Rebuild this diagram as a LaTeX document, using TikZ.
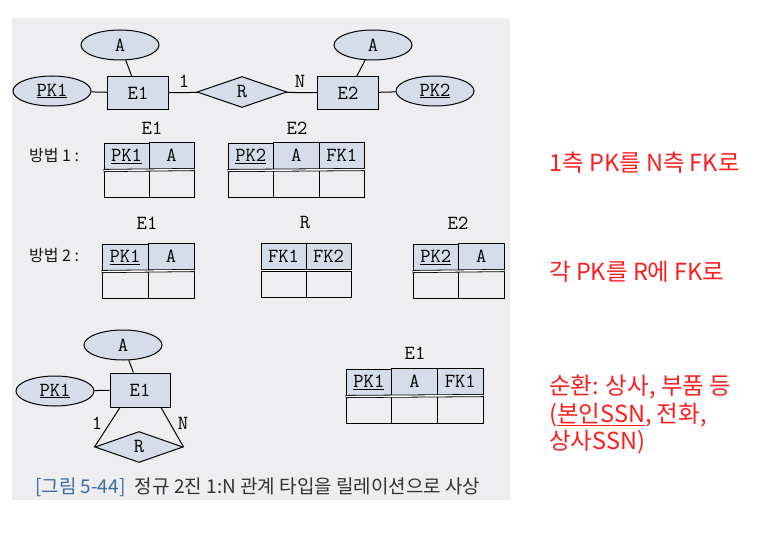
\documentclass[tikz,border=0pt]{standalone}
\usepackage{fontspec}
\usepackage{tikz}
\usetikzlibrary{shapes, arrows, calc, positioning, matrix}
\newfontfamily\kor{Noto Sans CJK KR}
\definecolor{panel}{RGB}{238,238,241}
\definecolor{shade}{RGB}{213,220,234}
\definecolor{capblue}{RGB}{58,108,165}
\definecolor{notered}{RGB}{250,30,30}

\begin{document}
\begin{tikzpicture}[>=stealth, x=1pt, y=-1pt]
    \tikzstyle{ent} = [draw, line width=1pt, fill=shade, minimum width=61pt,
	minimum height=32pt, inner sep=0pt, font=\ttfamily\fontsize{20}{20}\selectfont]
    \tikzstyle{attr} = [draw, line width=1pt, fill=shade, ellipse, minimum width=78pt,
	minimum height=30pt, inner sep=0pt, font=\ttfamily\fontsize{20}{20}\selectfont]
    \tikzstyle{rel} = [draw, line width=1pt, fill=shade, diamond, aspect=3,
	minimum width=90pt, minimum height=31pt, inner sep=0pt, font=\ttfamily\fontsize{20}{20}\selectfont]
    \tikzstyle{lbl} = [inner sep=0pt, font=\ttfamily\fontsize{20}{20}\selectfont]
    \tikzstyle{tbl} = [matrix of nodes, nodes in empty cells, anchor=north west,
	line width=1pt, column sep=-\pgflinewidth, row sep=-\pgflinewidth, inner sep=0pt,
	nodes={draw, line width=1pt, minimum height=27pt, inner sep=0pt,
	font=\ttfamily\fontsize{20}{20}\selectfont},
	row 1/.style={nodes={fill=shade}}]
    \tikzstyle{hline} = [double, double distance=1.4pt, line width=0.8pt]
    \tikzstyle{method} = [inner sep=0pt, text=black!90, font=\kor\fontsize{16}{16}\selectfont]
    \tikzstyle{note} = [inner sep=0pt, anchor=west, text=notered,
	font=\kor\fontsize{23.5}{28}\selectfont]

	\useasboundingbox (0,0) rectangle (759,532);
	\fill[panel] (12,18) rectangle (510,500);

	% E-R diagram
	\begin{scope}
		\path[-, line width=1pt]
			node[ent] (E1) at (138,93) {E1}
			node[attr] (A1) at (120,45) {A}
			node[attr] (PK1) at (52,91) {\underline{PK1}}
			node[rel] (R) at (242,92) {R}
			node[ent] (E2) at (348,93) {E2}
			node[attr] (A2) at (373,45) {A}
			node[attr] (PK2) at (435,91) {\underline{PK2}}
			node[lbl] (one) at (184,81) {1}
			node[lbl] (many) at (300,81) {N}

			(A1) edge (E1)
			(PK1) edge (E1)
			(E1) edge (R)
			(R) edge (E2)
			(A2) edge (E2)
			(E2) edge (PK2)
		;
	\end{scope}

	% method 1
	\node[method] (way1) at (54,155) {방법 1 :};
	\node[lbl] (t1E1) at (152,128) {E1};
	\matrix (m1E1) [tbl, nodes={minimum width=45pt}] at (103,141) {
		\underline{PK1} & A \\
		& \\
	};
	\node[lbl] (t1E2) at (297,128) {E2};
	\matrix (m1E2) [tbl, nodes={minimum width=45.5pt}] at (227,141) {
		\underline{PK2} & A & FK1 \\
		& & \\
	};
	\draw[hline] (m1E1-1-1.south west) -- (m1E1-1-2.south east);
	\draw[hline] (m1E2-1-1.south west) -- (m1E2-1-3.south east);

	% method 2
	\node[method] (way2) at (54,255) {방법 2 :};
	\node[lbl] (t2E1) at (147,223) {E1};
	\matrix (m2E1) [tbl, nodes={minimum width=46pt}] at (101,242) {
		\underline{PK1} & A \\
		& \\
	};
	\node[lbl] (t2R) at (305,223) {R};
	\matrix (m2R) [tbl, nodes={minimum width=45pt}] at (260,242) {
		FK1 & FK2 \\
		& \\
	};
	\node[lbl] (t2E2) at (458,223) {E2};
	\matrix (m2E2) [tbl, nodes={minimum width=45.5pt}] at (412,242) {
		\underline{PK2} & A \\
		& \\
	};
	\draw[hline] (m2E1-1-1.south west) -- (m2E1-1-2.south east);
	\draw[hline] (m2R-1-1.south west) -- (m2R-1-2.south east);
	\draw[hline] (m2E2-1-1.south west) -- (m2E2-1-2.south east);

	% recursive
	\begin{scope}
		\path[-, line width=1pt]
			node[ent, minimum width=60pt, minimum height=34pt] (E3) at (140,390) {E1}
			node[attr] (A3) at (123,345) {A}
			node[attr] (PK3) at (55,391) {\underline{PK1}}
			node[rel, minimum width=88pt] (R3) at (139,447) {R}
			node[lbl] (one3) at (97,423) {1}
			node[lbl] (many3) at (183,423) {N}

			(A3) edge (E3)
			(PK3) edge (E3)
			([xshift=-20pt]E3.south) edge (R3.west)
			([xshift=21pt]E3.south) edge (R3.east)
		;
	\end{scope}
	\node[lbl] (t3E1) at (415,353) {E1};
	\matrix (m3E1) [tbl, nodes={minimum width=45.7pt}] at (345,367) {
		\underline{PK1} & A & FK1 \\
		& & \\
	};
	\draw[hline] (m3E1-1-1.south west) -- (m3E1-1-3.south east);

	% caption
	\node[inner sep=0pt, anchor=west, text=black!80, font=\kor\fontsize{19}{19}\selectfont]
		(cap) at (35,487) {\textcolor{capblue}{[그림 5-44]}\enspace 정규 2진 1:N 관계 타입을 릴레이션으로 사상};

	% notes
	\node[note] (n1) at (549,163) {1측 PK를 N측 FK로};
	\node[note] (n2) at (549,272) {각 PK를 R에 FK로};
	\node[note] (n3) at (549,387) {순환: 상사, 부품 등};
	\node[note] (n4) at (549,415) {(\underline{본인SSN}, 전화,};
	\node[note] (n5) at (549,442) {상사SSN)};
\end{tikzpicture}
\end{document}
